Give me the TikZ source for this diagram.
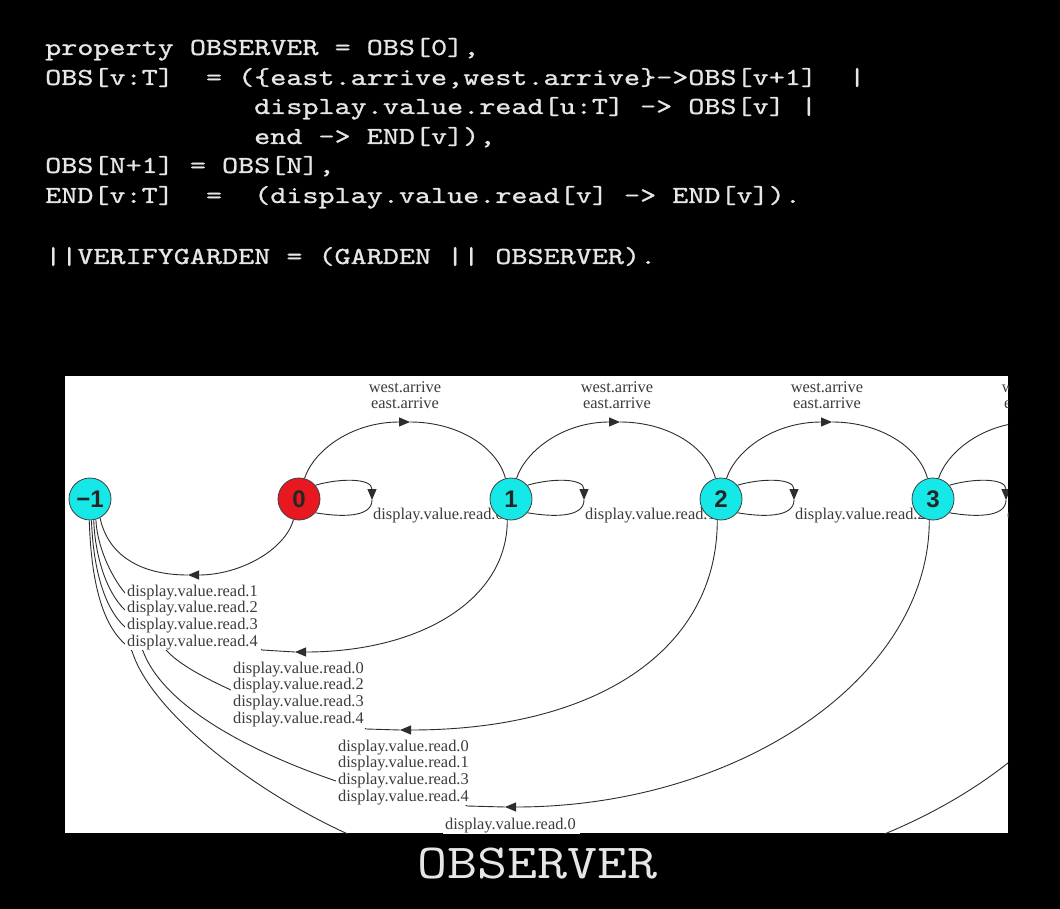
\documentclass[tikz,border=0pt]{standalone}
\usepackage{fontspec}
\usetikzlibrary{arrows.meta}
\newfontfamily\lblfamily{Liberation Serif}
\newfontfamily\numfamily{Liberation Sans}
\newfontfamily\codefont[FakeBold=0.8]{lmmono10-regular.otf}
\newcommand\codetxt[1]{\scalebox{1.25}[1]{#1}}
\newcommand\ttltxt[1]{\scalebox{1.19}[1]{#1}}
\definecolor{codegray}{RGB}{230,230,230}
\definecolor{nodecyan}{RGB}{22,232,232}
\definecolor{nodered}{RGB}{232,24,32}
\definecolor{edgecol}{RGB}{45,45,45}
\definecolor{lblcol}{RGB}{60,60,60}
\pgfdeclarelayer{back}
\pgfdeclarelayer{mid}
\pgfsetlayers{back,mid,main}
\begin{document}
\begin{tikzpicture}[x=1pt,y=-1pt,
  code/.style={anchor=base west, inner sep=0, text=codegray, font=\codefont\fontsize{24.5}{28}\selectfont},
  ttlstyle/.style={anchor=base, inner sep=0, text=codegray, font=\ttfamily\fontsize{49}{52}\selectfont},
  state/.style={circle, minimum size=42pt, inner sep=0, draw=black!75, line width=0.8pt,
    font=\numfamily\bfseries\fontsize{24}{24}\selectfont, text=black!85},
  stcyan/.style={state, fill=nodecyan},
  stred/.style={state, fill=nodered},
  lbl/.style={anchor=base west, inner sep=0, text=lblcol, font=\lblfamily\fontsize{16.4}{16.8}\selectfont},
  lblc/.style={lbl, anchor=base},
  edge/.style={draw=edgecol, line width=0.9pt},
  arr/.style={-{Triangle[length=11pt,width=9pt]}}
]
\useasboundingbox (0,0) rectangle (1060,909);
\begin{pgfonlayer}{back}
  \fill[black] (0,0) rectangle (1060,909);
  \fill[white] (65,376) rectangle (1008,833);
\end{pgfonlayer}

% code text
\node[code] (c1) at (45,55) {\codetxt{property OBSERVER = OBS[0],}};
\node[code] (c2) at (45,85) {\codetxt{OBS[v:T]~~=~(\{east.arrive,west.arrive\}->OBS[v+1]~~|}};
\node[code] (c3) at (254,114) {\codetxt{display.value.read[u:T] -> OBS[v] |}};
\node[code] (c4) at (254,144) {\codetxt{end -> END[v]),}};
\node[code] (c5) at (45,173) {\codetxt{OBS[N+1] = OBS[N],}};
\node[code] (c6) at (45,203) {\codetxt{END[v:T]~~=~~(display.value.read[v] -> END[v]).}};
\node[code] (c7) at (45,264) {\codetxt{||VERIFYGARDEN = (GARDEN || OBSERVER).}};

\node[ttlstyle] (ttl) at (537.5,878) {\ttltxt{OBSERVER}};

% states
\node[stcyan] (m1) at (90,499) {−1};
\node[stred]  (s0) at (299,499) {0};
\node[stcyan] (s1) at (511,499) {1};
\node[stcyan] (s2) at (721,499) {2};
\node[stcyan] (s3) at (933,499) {3};
\coordinate (s4t) at (1138.6,478.7);
\coordinate (s4b) at (1139,520);

\begin{pgfonlayer}{mid}
\begin{scope}
\clip (65,376) rectangle (1008,833);

% arrive arcs
\draw[edge,arr] (s0.75) .. controls (314,450) and (352,422) .. (410,422);
\draw[edge] (410,422) .. controls (458,422) and (497,447) .. (s1.105);
\draw[edge,arr] (s1.75) .. controls (526,450) and (564,422) .. (620,422);
\draw[edge] (620,422) .. controls (668,422) and (707,447) .. (s2.105);
\draw[edge,arr] (s2.75) .. controls (736,450) and (774,422) .. (832,422);
\draw[edge] (832,422) .. controls (880,422) and (919,447) .. (s3.105);
\draw[edge,arr] (s3.75) .. controls (948,450) and (986,422) .. (1043,422);
\draw[edge] (1043,422) .. controls (1091,422) and (1130,447) .. (s4t);

\foreach \x in {405,617,827,1038} {
  \node[lblc] at (\x,392) {west.arrive};
  \node[lblc] at (\x,408) {east.arrive};
}

% self loops
\foreach \n/\x/\k in {s0/299/0, s1/511/1, s2/721/2, s3/933/3} {
  \draw[edge,arr] (\n.40) .. controls (\x+41,478) and (\x+73,478) .. (\x+73,500);
  \draw[edge] (\x+73,500) .. controls (\x+73,518) and (\x+41,517) .. (\n.-40);
  \node[lbl] at (\x+74,519) {display.value.read.\k};
}

% 0 -> -1
\draw[edge,arr] (s0.-105) .. controls (285,550) and (240,575) .. (188,575);
\draw[edge] (188,575) .. controls (140,575) and (108,555) .. (m1.-62);

% 1 -> -1
\draw[edge,arr] (s1.-100) .. controls (507.4,600) and (420,652) .. (295,652);
\draw[edge] (295,652) -- (262,650) -- (255,645) -- (125,593)
  .. controls (110,575) and (97,545) .. (m1.-74);

% 2 -> -1
\draw[edge,arr] (s2.-100) .. controls (717.4,650) and (597,730) .. (400,730);
\draw[edge] (400,730) -- (366,729) -- (360,722) -- (231,690)
  .. controls (205,678) and (180,665) .. (167,651) -- (125,610)
  .. controls (106,592) and (95,555) .. (m1.-80);

% 3 -> -1
\draw[edge,arr] (s3.-100) .. controls (929.4,678) and (738,807) .. (505,807);
\draw[edge] (505,807) -- (467,806) -- (460,800) -- (336,781)
  .. controls (260,755) and (165,710) .. (143,651) -- (125,627)
  .. controls (103,607) and (93,565) .. (m1.-86);

% 4 -> -1 (mostly outside the frame)
\draw[edge] (s4b) .. controls (1139,725) and (905,885) .. (615,885) -- (470,880)
  .. controls (420,870) and (380,852) .. (350,835)
  .. controls (250,790) and (150,710) .. (132,651) -- (125,644)
  .. controls (100,622) and (91,575) .. (m1.-92);

% label groups (white backgrounds hide the edges running beneath)
\fill[white] (125,584) rectangle (261,650);
\node[lbl] at (127,596) {display.value.read.1};
\node[lbl] at (127,612.7) {display.value.read.2};
\node[lbl] at (127,629.4) {display.value.read.3};
\node[lbl] at (127,646.1) {display.value.read.4};

\fill[white] (231,662) rectangle (367,727.5);
\node[lbl] at (233,673) {display.value.read.0};
\node[lbl] at (233,689.7) {display.value.read.2};
\node[lbl] at (233,706.4) {display.value.read.3};
\node[lbl] at (233,723.1) {display.value.read.4};

\fill[white] (336,740) rectangle (472,805);
\node[lbl] at (338,751) {display.value.read.0};
\node[lbl] at (338,767.7) {display.value.read.1};
\node[lbl] at (338,784.4) {display.value.read.3};
\node[lbl] at (338,801.1) {display.value.read.4};

\fill[white] (443,818) rectangle (580,834);
\node[lbl] at (445,829) {display.value.read.0};
\end{scope}
\end{pgfonlayer}
\end{tikzpicture}
\end{document}
